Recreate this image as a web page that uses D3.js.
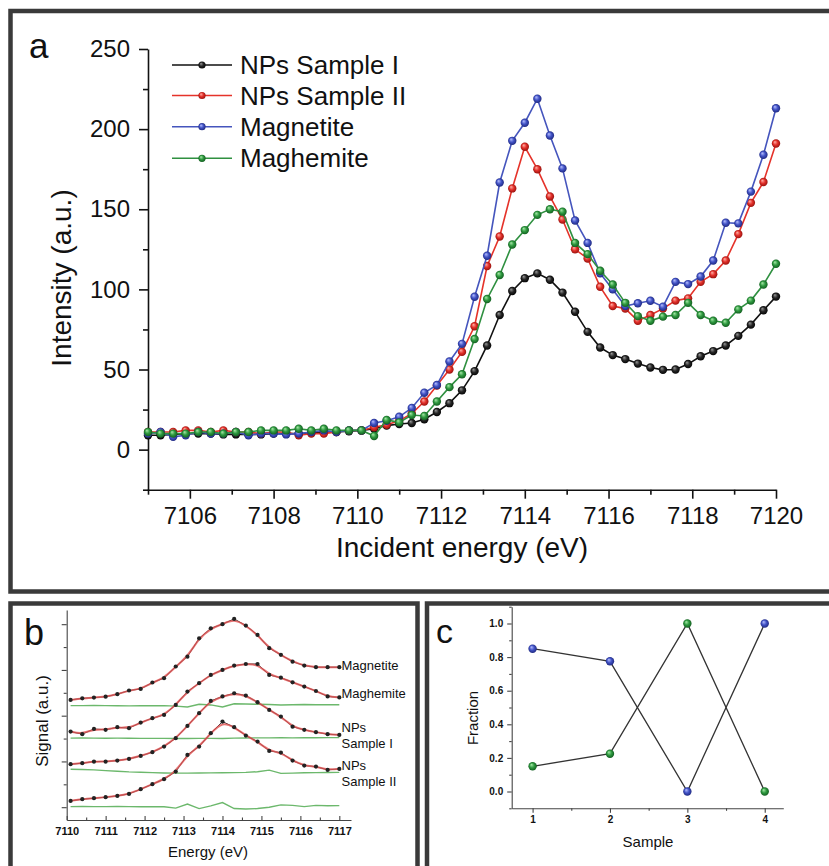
<!DOCTYPE html>
<html>
<head>
<meta charset="utf-8">
<script src="https://cdn.jsdelivr.net/npm/d3@7"></script>
<style>
body{margin:0;padding:0;background:#fff;}
text{font-family:"Liberation Sans",Arial,sans-serif;fill:#111;}
</style>
</head>
<body>
<div id="fig"></div>
<script>
// ---------- panel a data (XANES, 0.3 eV steps) ----------
var energyA = [7105.0,7105.3,7105.6,7105.9,7106.2,7106.5,7106.8,7107.1,7107.4,7107.7,7108.0,7108.3,7108.6,7108.9,7109.2,7109.5,7109.8,7110.1,
  7110.4,7110.7,7111.0,7111.3,7111.6,7111.9,7112.2,7112.5,7112.8,7113.1,7113.4,7113.7,7114.0,7114.3,
  7114.6,7114.9,7115.2,7115.5,7115.8,7116.1,7116.4,7116.7,7117.0,7117.3,7117.6,7117.9,7118.2,7118.5,7118.8,7119.1,7119.4,7119.7,7120.0];
var sampleI = [9,9,9.5,10,10,10,9.5,9.5,9.5,9.5,10,10,10,10.5,11,11,11.5,12,
  13,15,16,16.6,19,23.5,29,37,49,65,84,99,107,110,
  106,98,86,73.5,63.7,59,56.5,53.7,51.3,49.8,50,53.4,58.3,61.5,65,71,78,87,95.5];
var sampleII = [11,11,11,12,12,11,12,11,11,10,11,11,9,10,10,11,12,12,
  14,15.5,18,22.5,30,40,50,61,77,114.6,133,163,189,175,
  158,143.6,125,119.3,101.6,89.6,88,80.4,84,88,93,94.4,104.7,109.5,118,134.5,154,167,191];
var magnetite = [10,11,8,9,11,10,10,11,9,10,10,9.5,10,11,12,11,12,12,
  16.6,18,20.5,26,35.5,40.3,55,66,95.4,121,166.7,192.7,204,219,
  196,175.5,143,129,110,100,89.6,91.3,92.9,89.2,104.7,103.3,108,118,141.6,141.2,161,184,213];
var maghemite = [11,10,10,10,11,11,10,11,11,12,12,12,13,12,13,12,12,12,
  8.5,18.5,17,21.6,21,30,39,47,69,94,109,128,137,146.5,
  150,148.5,129,122,111.6,103,91.6,83.3,80.4,83,84,91.6,84,80.4,79.2,87.5,93,103,116];
var seriesNames = ["NPs Sample I","NPs Sample II","Magnetite","Maghemite"];

// ---------- panel b data (stacked fits, arbitrary offsets) ----------
var energyB = [7110.1,7110.4,7110.7,7111.0,7111.3,7111.6,7111.9,7112.2,7112.5,7112.8,7113.1,7113.4,
  7113.7,7114.0,7114.3,7114.6,7114.9,7115.2,7115.5,7115.8,7116.1,7116.4,7116.7,7117.0];
var bMagnetite = [2.345,2.38,2.395,2.415,2.47,2.55,2.585,2.725,2.82,3.075,3.29,3.69,3.91,4.0,4.116,3.97,3.766,3.475,3.33,3.18,3.095,3.06,3.06,3.06];
var bMaghemite = [1.652,1.596,1.711,1.69,1.749,1.727,1.85,1.945,2.017,2.236,2.527,2.71,2.89,3.0,3.095,3.13,3.13,2.89,2.83,2.73,2.636,2.54,2.42,2.40];
var bSampleI = [0.94,0.962,0.997,0.997,1.019,1.056,1.121,1.202,1.325,1.508,1.777,2.055,2.323,2.42,2.49,2.44,2.295,2.127,1.98,1.76,1.69,1.64,1.596,1.58];
var bSampleII = [0.138,0.175,0.197,0.219,0.247,0.291,0.393,0.503,0.612,0.778,1.143,1.325,1.617,1.871,1.749,1.565,1.434,1.23,1.193,1.019,0.909,0.887,0.815,0.837];
var rMagnetite = [2.22,2.22,2.222,2.22,2.218,2.215,2.218,2.218,2.22,2.21,2.19,2.25,2.235,2.19,2.26,2.255,2.25,2.245,2.235,2.24,2.245,2.24,2.24,2.24];
var rMaghemite = [1.51,1.512,1.51,1.508,1.51,1.507,1.505,1.505,1.503,1.502,1.5,1.503,1.505,1.5,1.51,1.512,1.515,1.515,1.518,1.516,1.52,1.518,1.52,1.52];
var rSampleI = [0.83,0.825,0.815,0.8,0.785,0.772,0.765,0.755,0.748,0.745,0.745,0.748,0.75,0.752,0.755,0.76,0.775,0.81,0.74,0.745,0.752,0.755,0.758,0.76];
var rSampleII = [0.013,0.015,0.013,0.012,0.014,0.013,0.01,0.008,0.01,-0.02,0.07,-0.03,0.03,0.1,-0.03,-0.04,-0.03,0.0,0.05,0.04,0.013,0.04,0.03,0.035];
var bLabels = [["Magnetite"],["Maghemite"],["NPs","Sample I"],["NPs","Sample II"]];

// ---------- panel c data ----------
var sampleNo = [1,2,3,4];
var fracMagnetite = [0.85,0.775,0.0,1.0];
var fracMaghemite = [0.15,0.225,1.0,0.0];

var svg = d3.select("#fig").append("svg").attr("width",829).attr("height",866);
var defs = svg.append("defs");
function ball(id, light, base, dark){
  var g = defs.append("radialGradient").attr("id",id)
    .attr("cx","50%").attr("cy","50%").attr("r","55%").attr("fx","35%").attr("fy","30%");
  g.append("stop").attr("offset","0%").attr("stop-color",light);
  g.append("stop").attr("offset","50%").attr("stop-color",base);
  g.append("stop").attr("offset","100%").attr("stop-color",dark);
}
ball("bk","#9a9a9a","#262626","#000");
ball("rd","#ffb3aa","#e3302a","#8e0e0a");
ball("bl","#b8c0ff","#4253c6","#1b2478");
ball("gr","#aaeaaa","#2f9a40","#0e561b");

var lineCol = ["#111","#e5332a","#4555bd","#2f9040"];
var ballId = ["bk","rd","bl","gr"];

// ---------- frames ----------
svg.append("rect").attr("x",10.5).attr("y",11).attr("width",830).attr("height",580.5)
  .attr("fill","#fff").attr("stroke","#3a3a3a").attr("stroke-width",4.5);
svg.append("rect").attr("x",10.5).attr("y",603.5).attr("width",407).attr("height",300)
  .attr("fill","#fff").attr("stroke","#3a3a3a").attr("stroke-width",4.5);
svg.append("rect").attr("x",427).attr("y",603.5).attr("width",420).attr("height",300)
  .attr("fill","#fff").attr("stroke","#3a3a3a").attr("stroke-width",4.5);

// ================= panel a =================
var gA = svg.append("g");
var xA = d3.scaleLinear().domain([7105,7120]).range([148,776]);
var yA = d3.scaleLinear().domain([-25,250]).range([489.7,49]);

gA.append("g").attr("transform","translate(148,0)")
  .call(d3.axisLeft(yA).tickValues(d3.range(-25,250,50)).tickSize(5).tickFormat(""))
  .call(function(g){g.select(".domain").remove();});
var ay = gA.append("g").attr("transform","translate(148,0)")
  .call(d3.axisLeft(yA).tickValues([0,50,100,150,200,250]).tickSize(9).tickPadding(9).tickSizeOuter(0));
ay.selectAll("text").attr("font-size","24px").attr("fill","#111");

gA.append("g").attr("transform","translate(0,489.7)")
  .call(d3.axisBottom(xA).tickValues(d3.range(7105,7121,2)).tickSize(5).tickFormat(""))
  .call(function(g){g.select(".domain").remove();});
var ax = gA.append("g").attr("transform","translate(0,489.7)")
  .call(d3.axisBottom(xA).tickValues(d3.range(7106,7121,2)).tickSize(9).tickPadding(8).tickSizeOuter(0).tickFormat(d3.format("d")));
ax.selectAll("text").attr("font-size","24px").attr("fill","#111");
gA.selectAll(".domain, .tick line").attr("stroke","#111").attr("stroke-width",1.6);

gA.append("text").attr("x",462).attr("y",557).attr("text-anchor","middle")
  .attr("font-size","28px").text("Incident energy (eV)");
gA.append("text").attr("transform","translate(71,278) rotate(-90)").attr("text-anchor","middle")
  .attr("font-size","28px").text("Intensity (a.u.)");
gA.append("text").attr("x",29).attr("y",58).attr("font-size","35px").text("a");

var dataA = [sampleI, sampleII, magnetite, maghemite];
var lineA = d3.line().x(function(d){return xA(d[0]);}).y(function(d){return yA(d[1]);});
dataA.forEach(function(ser, k){
  var pts = energyA.map(function(e,i){return [e, ser[i]];});
  gA.append("path").datum(pts).attr("d",lineA).attr("fill","none")
    .attr("stroke",lineCol[k]).attr("stroke-width",1.6);
  gA.selectAll(null).data(pts).enter().append("circle")
    .attr("cx",function(d){return xA(d[0]);}).attr("cy",function(d){return yA(d[1]);})
    .attr("r",4.2).attr("fill","url(#"+ballId[k]+")");
});

// legend
var legY = [65,95.5,126.7,158.3];
seriesNames.forEach(function(n,k){
  gA.append("line").attr("x1",172).attr("x2",232).attr("y1",legY[k]).attr("y2",legY[k])
    .attr("stroke",lineCol[k]).attr("stroke-width",1.6);
  gA.append("circle").attr("cx",202).attr("cy",legY[k]).attr("r",3.6).attr("fill","url(#"+ballId[k]+")");
  gA.append("text").attr("x",240).attr("y",legY[k]).attr("dy","0.35em").attr("font-size","26px").text(n);
});

// ================= panel b =================
var gB = svg.append("g");
var xB = d3.scaleLinear().domain([7110,7117.3]).range([66.7,351]);
var yB = d3.scaleLinear().domain([-0.28,4.31]).range([820,610]);

gB.append("g").attr("transform","translate(66.7,0)")
  .call(d3.axisLeft(yB).tickValues([0.5,1.5,2.5,3.5]).tickSize(3).tickFormat(""))
  .call(function(g){g.select(".domain").remove();});
gB.append("g").attr("transform","translate(66.7,0)")
  .call(d3.axisLeft(yB).tickValues([0,1,2,3,4]).tickSize(5).tickSizeOuter(0).tickFormat(""));
gB.append("g").attr("transform","translate(0,820)")
  .call(d3.axisTop(xB).tickValues(d3.range(7110.5,7117,1)).tickSize(2.5).tickFormat(""))
  .call(function(g){g.select(".domain").remove();});
var bx = gB.append("g").attr("transform","translate(0,820)")
  .call(d3.axisBottom(xB).tickValues(d3.range(7110,7118,1)).tickSize(0).tickPadding(7).tickSizeOuter(0).tickFormat(d3.format("d")));
gB.append("g").attr("transform","translate(0,820)")
  .call(d3.axisTop(xB).tickValues(d3.range(7110,7118,1)).tickSize(4).tickFormat(""))
  .call(function(g){g.select(".domain").remove();});
bx.selectAll("text").attr("font-size","11px").attr("font-weight","bold").attr("fill","#333");
gB.selectAll(".domain, .tick line").attr("stroke","#444").attr("stroke-width",1.1);

gB.append("text").attr("x",208).attr("y",857).attr("text-anchor","middle").attr("font-size","15px").text("Energy (eV)");
gB.append("text").attr("transform","translate(48,721) rotate(-90)").attr("text-anchor","middle")
  .attr("font-size","17px").text("Signal (a.u.)");
gB.append("text").attr("x",24).attr("y",645).attr("font-size","36px").text("b");

var fitB = [bMagnetite, bMaghemite, bSampleI, bSampleII];
var resB = [rMagnetite, rMaghemite, rSampleI, rSampleII];
var lineB = d3.line().x(function(d){return xB(d[0]);}).y(function(d){return yB(d[1]);});
var smoothB = d3.line().curve(d3.curveBasis).x(function(d){return xB(d[0]);}).y(function(d){return yB(d[1]);});
resB.forEach(function(ser){
  var pts = energyB.map(function(e,i){return [e, ser[i]];});
  gB.append("path").datum(pts).attr("d",lineB).attr("fill","none").attr("stroke","#6cb86c").attr("stroke-width",1.4);
});
fitB.forEach(function(ser){
  var pts = energyB.map(function(e,i){return [e, ser[i]];});
  gB.append("path").datum(pts).attr("d",lineB).attr("fill","none").attr("stroke","#333").attr("stroke-width",1);
  gB.append("path").datum(pts).attr("d",smoothB).attr("fill","none").attr("stroke","#e05050")
    .attr("stroke-opacity",0.8).attr("stroke-width",2);
  gB.selectAll(null).data(pts).enter().append("circle")
    .attr("cx",function(d){return xB(d[0]);}).attr("cy",function(d){return yB(d[1]);})
    .attr("r",2.1).attr("fill","#222");
});
var labY = [[669.5],[697.5],[732,748],[770,786]];
bLabels.forEach(function(lines,k){
  lines.forEach(function(t,j){
    gB.append("text").attr("x",341.5).attr("y",labY[k][j]).attr("font-size","13px").attr("fill","#222").text(t);
  });
});

// ================= panel c =================
var gC = svg.append("g");
var xC = d3.scaleLinear().domain([0.73,4.24]).range([511.7,783.3]);
var yC = d3.scaleLinear().domain([-0.1,1.1]).range([808.3,606.7]);

gC.append("g").attr("transform","translate(511.7,0)")
  .call(d3.axisLeft(yC).tickValues([-0.1,0.1,0.3,0.5,0.7,0.9,1.1]).tickSize(2.5).tickFormat(""))
  .call(function(g){g.select(".domain").remove();});
var cy = gC.append("g").attr("transform","translate(511.7,0)")
  .call(d3.axisLeft(yC).tickValues([0,0.2,0.4,0.6,0.8,1.0]).tickSize(4.5).tickPadding(4).tickSizeOuter(0).tickFormat(d3.format(".1f")));
gC.append("g").attr("transform","translate(0,808.3)")
  .call(d3.axisBottom(xC).tickValues([1.5,2.5,3.5]).tickSize(2.5).tickFormat(""))
  .call(function(g){g.select(".domain").remove();});
var cx = gC.append("g").attr("transform","translate(0,808.3)")
  .call(d3.axisBottom(xC).tickValues(sampleNo).tickSize(4.5).tickPadding(3.5).tickSizeOuter(0).tickFormat(d3.format("d")));
gC.selectAll("text").attr("font-size","10px").attr("font-weight","bold").attr("fill","#333");
gC.selectAll(".domain, .tick line").attr("stroke","#444").attr("stroke-width",1.1);

gC.append("text").attr("x",648).attr("y",847).attr("text-anchor","middle").attr("font-size","15px").text("Sample");
gC.append("text").attr("transform","translate(478,718) rotate(-90)").attr("text-anchor","middle")
  .attr("font-size","15px").text("Fraction");
gC.append("text").attr("x",436).attr("y",643).attr("font-size","34px").text("c");

var lineC = d3.line().x(function(d){return xC(d[0]);}).y(function(d){return yC(d[1]);});
[[fracMagnetite,"bl"],[fracMaghemite,"gr"]].forEach(function(s){
  var pts = sampleNo.map(function(n,i){return [n, s[0][i]];});
  gC.append("path").datum(pts).attr("d",lineC).attr("fill","none").attr("stroke","#333").attr("stroke-width",1.3);
});
[[fracMagnetite,"bl"],[fracMaghemite,"gr"]].forEach(function(s){
  var pts = sampleNo.map(function(n,i){return [n, s[0][i]];});
  gC.selectAll(null).data(pts).enter().append("circle")
    .attr("cx",function(d){return xC(d[0]);}).attr("cy",function(d){return yC(d[1]);})
    .attr("r",4.2).attr("fill","url(#"+s[1]+")");
});
</script>
</body>
</html>
